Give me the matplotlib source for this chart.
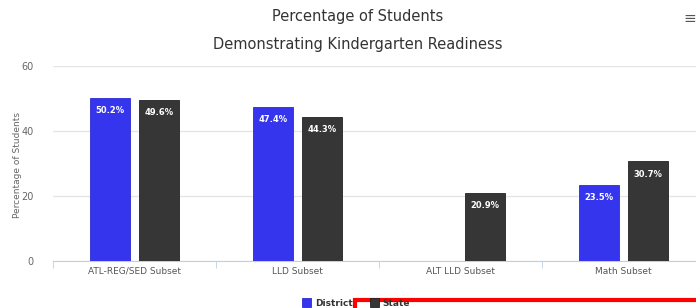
import numpy as np
import matplotlib.pyplot as plt
from matplotlib.patches import Rectangle

# Data
categories = ["ATL-REG/SED Subset", "LLD Subset", "ALT LLD Subset", "Math Subset"]
district = [50.2, 47.4, np.nan, 23.5]
state = [49.6, 44.3, 20.9, 30.7]
y_ticks = [0, 20, 40, 60]

blue = "#3535ee"
dark = "#363636"

fig = plt.figure(figsize=(6.96, 3.08), dpi=100)
# axes spans a bit past the right edge (reference is cropped)
ax = fig.add_axes([53 / 696, (308 - 261) / 308, 652 / 696, 195 / 308])

x = np.arange(len(categories))
w = 0.24
off = 0.15
b1 = ax.bar(x - off, district, w, color=blue, edgecolor="#2a2ad0", linewidth=0.6, zorder=3)
b2 = ax.bar(x + off, state, w, color=dark, edgecolor="#222222", linewidth=0.6, zorder=3)

for bars, vals in ((b1, district), (b2, state)):
    for bar, v in zip(bars, vals):
        if np.isnan(v):
            continue
        ax.annotate(f"{v}%", (bar.get_x() + bar.get_width() / 2, v),
                    xytext=(0, -6), textcoords="offset points",
                    ha="center", va="top", fontsize=6, fontweight="bold",
                    color="white", zorder=4)

ax.set_xlim(-0.5, len(categories) - 0.5)
ax.set_ylim(0, 60)
ax.set_yticks(y_ticks)
ax.set_yticklabels([str(t) for t in y_ticks], fontsize=7, color="#666666")
ax.set_xticks(x)
ax.set_xticklabels(categories, fontsize=6.5, color="#555555")
ax.set_xticks(np.arange(len(categories) + 1) - 0.5, minor=True)
ax.tick_params(axis="x", which="major", length=0, pad=4)
ax.tick_params(axis="x", which="minor", length=5, color="#c0d0e0", direction="out")
ax.tick_params(axis="y", length=0, pad=14)
ax.grid(axis="y", color="#e4e4e4", linewidth=0.9, zorder=0)
for s in ("top", "right", "left"):
    ax.spines[s].set_visible(False)
ax.spines["bottom"].set_color("#c0d0e0")

fig.text(18 / 696, 1 - 165 / 308, "Percentage of Students", rotation=90,
         ha="center", va="center", fontsize=6.5, color="#666666")

fig.text(358 / 696, 1 - 16 / 308, "Percentage of Students", ha="center", va="center",
         fontsize=10.5, color="#333333")
fig.text(358 / 696, 1 - 44 / 308, "Demonstrating Kindergarten Readiness", ha="center",
         va="center", fontsize=10.5, color="#333333")
fig.text(690 / 696, 1 - 18 / 308, "\u2261", ha="center", va="center", fontsize=11,
         color="#555555")

# legend
leg = fig.legend(handles=[b1, b2], labels=["District", "State"], loc="center",
                 bbox_to_anchor=(356 / 696, 1 - 303 / 308), ncol=2, frameon=False,
                 prop={"size": 6.5, "weight": "bold"}, handlelength=1.0,
                 handleheight=1.0, columnspacing=1.9, handletextpad=0.4)
for t in leg.get_texts():
    t.set_color("#333333")

# red annotation box over the bottom of the reference (runs off the bottom edge)
fig.add_artist(Rectangle((355 / 696, -20 / 308), 360 / 696, 28 / 308,
                         transform=fig.transFigure, fill=False, edgecolor="#ff0000",
                         linewidth=3, clip_on=False))

fig.savefig("out.png", dpi=100)
